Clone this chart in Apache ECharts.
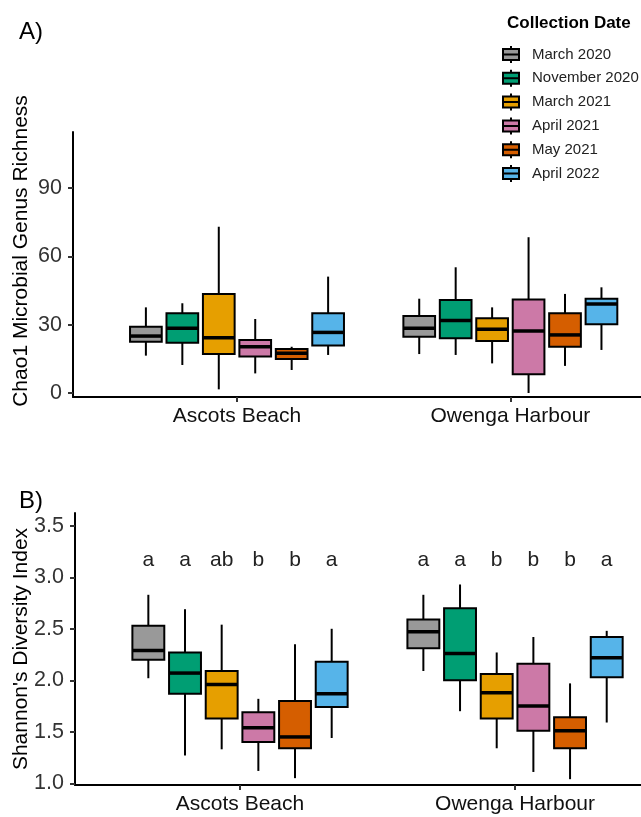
<!DOCTYPE html>
<html>
<head>
<meta charset="utf-8">
<title>Chao1 richness and Shannon diversity by site and collection date</title>
<script src="https://cdn.jsdelivr.net/npm/echarts@6/dist/echarts.min.js"></script>
<style>
  html, body { margin: 0; padding: 0; background: #fff; }
  #chart { width: 641px; height: 817px; }
</style>
</head>
<body>
<div id="chart"></div>
<script>
// Sites on the x axis and the collection dates that split each site into dodged boxes
const sites = ['Ascots Beach', 'Owenga Harbour'];
const dates = ['March 2020', 'November 2020', 'March 2021', 'April 2021', 'May 2021', 'April 2022'];
const palette = ['#999999', '#009E73', '#E69F00', '#CC79A7', '#D55E00', '#56B4E9'];

// Chao1 genus richness: [lower whisker, Q1, median, Q3, upper whisker] for Ascots Beach, Owenga Harbour
const chao1March2020 = [[16.4, 22.5, 25.0, 29.1, 37.6], [17.1, 24.7, 28.4, 33.8, 41.4]];
const chao1November2020 = [[12.3, 22.1, 28.4, 35.0, 39.4], [16.7, 24.0, 31.8, 40.8, 55.2]];
const chao1March2021 = [[1.6, 17.1, 24.3, 43.5, 73.0], [13.0, 22.8, 28.0, 32.8, 37.6]];
const chao1April2021 = [[8.6, 16.0, 20.3, 23.3, 32.5], [0.0, 8.2, 27.2, 41.1, 68.4]];
const chao1May2021 = [[10.1, 14.9, 17.4, 19.3, 20.3], [11.9, 20.3, 25.5, 35.0, 43.5]];
const chao1April2022 = [[16.7, 20.8, 26.6, 35.0, 51.1], [18.9, 30.2, 39.1, 41.4, 46.4]];

// Shannon diversity index, same layout
const shannonMarch2020 = [[2.02, 2.20, 2.29, 2.53, 2.83], [2.09, 2.31, 2.47, 2.59, 2.83]];
const shannonNovember2020 = [[1.27, 1.87, 2.07, 2.27, 2.69], [1.70, 2.00, 2.26, 2.70, 2.93]];
const shannonMarch2021 = [[1.33, 1.63, 1.96, 2.09, 2.54], [1.34, 1.63, 1.88, 2.06, 2.27]];
const shannonApril2021 = [[1.12, 1.40, 1.54, 1.69, 1.82], [1.11, 1.51, 1.75, 2.16, 2.42]];
const shannonMay2021 = [[1.05, 1.34, 1.45, 1.80, 2.35], [1.04, 1.34, 1.51, 1.64, 1.97]];
const shannonApril2022 = [[1.44, 1.74, 1.87, 2.18, 2.50], [1.59, 2.03, 2.22, 2.42, 2.48]];

// Significance groupings printed above the Shannon boxes, one per date
const lettersAscots = ['a', 'a', 'ab', 'b', 'b', 'a'];
const lettersOwenga = ['a', 'a', 'b', 'b', 'b', 'a'];

// Tick values
const chao1Ticks = [0, 30, 60, 90];
const shannonTicks = [1.0, 1.5, 2.0, 2.5, 3.0, 3.5];

const chao1ByDate = [chao1March2020, chao1November2020, chao1March2021, chao1April2021, chao1May2021, chao1April2022];
const shannonByDate = [shannonMarch2020, shannonNovember2020, shannonMarch2021, shannonApril2021, shannonMay2021, shannonApril2022];
const lettersBySite = [lettersAscots, lettersOwenga];

const FONT = '"Liberation Sans", Arial, sans-serif';
const DODGE = 0.8 / 6;      // spacing of dodged boxes within a site
const BOX_W = 0.116;        // box width in x-axis units
const LETTER_Y = 3.17;      // height of the grouping letters on the Shannon axis

function boxSeries(panel, k, values) {
  return {
    type: 'custom',
    name: dates[k],
    xAxisIndex: panel,
    yAxisIndex: panel,
    itemStyle: { color: palette[k] },
    data: values.map((v, i) => [i + 1].concat(v)),
    encode: { x: 0, y: [1, 2, 3, 4, 5] },
    renderItem(params, api) {
      const xc = api.value(0) + (k - 2.5) * DODGE;
      const lo = api.value(1), q1 = api.value(2), med = api.value(3), q3 = api.value(4), hi = api.value(5);
      const xl = api.coord([xc - BOX_W / 2, q1])[0];
      const xr = api.coord([xc + BOX_W / 2, q1])[0];
      const cx = api.coord([xc, q1])[0];
      const yLo = api.coord([xc, lo])[1];
      const yQ1 = api.coord([xc, q1])[1];
      const yMed = api.coord([xc, med])[1];
      const yQ3 = api.coord([xc, q3])[1];
      const yHi = api.coord([xc, hi])[1];
      const ink = { stroke: '#000', lineWidth: 2 };
      const children = [
        { type: 'line', shape: { x1: cx, y1: yQ3, x2: cx, y2: yHi }, style: ink },
        { type: 'line', shape: { x1: cx, y1: yQ1, x2: cx, y2: yLo }, style: ink },
        { type: 'rect', shape: { x: xl, y: yQ3, width: xr - xl, height: yQ1 - yQ3 },
          style: { fill: api.visual('color'), stroke: '#000', lineWidth: 2 } },
        { type: 'line', shape: { x1: xl, y1: yMed, x2: xr, y2: yMed }, style: { stroke: '#000', lineWidth: 3.5 } }
      ];
      if (panel === 1) {
        children.push({
          type: 'text',
          x: cx,
          y: api.coord([xc, LETTER_Y])[1],
          style: { text: lettersBySite[params.dataIndex][k], fill: '#222', font: '21px ' + FONT,
                   align: 'center', verticalAlign: 'middle' }
        });
      }
      return { type: 'group', children };
    }
  };
}

function xAxisFor(panel, max) {
  return {
    gridIndex: panel,
    type: 'value',
    min: 0.4,
    max: max,
    axisLine: { show: true, onZero: false, lineStyle: { color: '#000', width: 2 } },
    axisTick: { show: true, customValues: [1, 2], length: 5, lineStyle: { color: '#333', width: 2 } },
    axisLabel: { customValues: [1, 2], formatter: v => sites[Math.round(v) - 1],
                 fontFamily: FONT, fontSize: 21, color: '#111', margin: 9 },
    splitLine: { show: false }
  };
}

function yAxisFor(panel, min, max, ticks, fmt) {
  return {
    gridIndex: panel,
    type: 'value',
    min: min,
    max: max,
    axisLine: { show: true, onZero: false, lineStyle: { color: '#000', width: 2 } },
    axisTick: { show: true, customValues: ticks, length: 5, lineStyle: { color: '#333', width: 2 } },
    axisLabel: { customValues: ticks, formatter: fmt, fontFamily: FONT, fontSize: 21.5, color: '#333', margin: 11 },
    splitLine: { show: false }
  };
}

// Miniature box-and-whisker glyph for the legend keys
const legendIcon = 'path://M8,0V3M0,3H16V14H0ZM0,8.5H16M8,14V17';

const series = [];
dates.forEach((d, k) => series.push(boxSeries(0, k, chao1ByDate[k])));
dates.forEach((d, k) => series.push(boxSeries(1, k, shannonByDate[k])));

const option = {
  animation: false,
  backgroundColor: '#fff',
  title: [
    { text: 'A)', left: 14, top: 15, textStyle: { fontFamily: FONT, fontSize: 24, fontWeight: 'normal', color: '#000' } },
    { text: 'B)', left: 14, top: 484, textStyle: { fontFamily: FONT, fontSize: 24, fontWeight: 'normal', color: '#000' } },
    { text: 'Collection Date', left: 502, top: 10, textStyle: { fontFamily: FONT, fontSize: 17, fontWeight: 'bold', color: '#000' } }
  ],
  legend: {
    orient: 'vertical',
    left: 502,
    top: 45,
    padding: 0,
    itemWidth: 16,
    itemHeight: 17,
    itemGap: 4.8,
    selectedMode: false,
    icon: legendIcon,
    itemStyle: { borderColor: '#000', borderWidth: 2 },
    textStyle: { fontFamily: FONT, fontSize: 15, lineHeight: 17, color: '#222', padding: [0, 0, 0, 8] },
    data: dates.map((d, k) => ({ name: d, itemStyle: { color: palette[k] } }))
  },
  grid: [
    { left: 73, top: 132, height: 265, right: 0 },
    { left: 75, top: 513, height: 272, right: 0 }
  ],
  xAxis: [xAxisFor(0, 2.478), xAxisFor(1, 2.458)],
  yAxis: [
    yAxisFor(0, -1.76, 114.6, chao1Ticks, v => String(v)),
    yAxisFor(1, 0.9835, 3.624, shannonTicks, v => v.toFixed(1))
  ],
  graphic: [
    { type: 'text', x: 21, y: 251, rotation: Math.PI / 2,
      style: { text: 'Chao1 Microbial Genus Richness', font: '21px ' + FONT, fill: '#000', align: 'center', verticalAlign: 'middle' } },
    { type: 'text', x: 21, y: 649, rotation: Math.PI / 2,
      style: { text: "Shannon's Diversity Index", font: '21px ' + FONT, fill: '#000', align: 'center', verticalAlign: 'middle' } }
  ],
  series: series
};

const chart = echarts.init(document.getElementById('chart'), null, { renderer: 'canvas' });
chart.setOption(option);
</script>
</body>
</html>
